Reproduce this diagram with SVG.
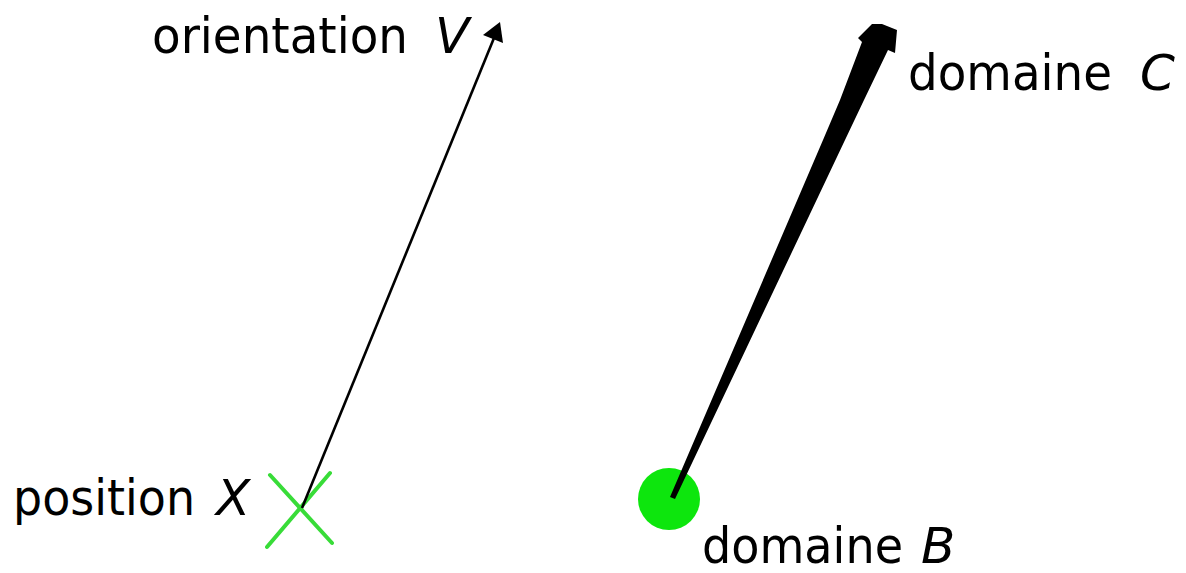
<svg xmlns="http://www.w3.org/2000/svg" width="1186" height="573" viewBox="0 0 1186 573">
<style>
  .lbl { font-family: "DejaVu Sans", "Noto Sans", sans-serif; font-size: 50px; fill: #000; }
  .it { font-style: italic; }
  .cross { stroke: #38dc38; stroke-width: 4; stroke-linecap: round; }
</style>
<rect width="1186" height="573" fill="#fff"/>
<g id="position-X">
  <line class="cross" x1="270" y1="475" x2="332" y2="543"/>
  <line class="cross" x1="330" y1="473" x2="267" y2="547"/>
  <text class="lbl" x="13" y="515" textLength="182" lengthAdjust="spacingAndGlyphs">position</text>
  <text class="lbl it" x="216" y="515">X</text>
</g>
<g id="orientation-V">
  <text class="lbl" x="152" y="53" textLength="256" lengthAdjust="spacingAndGlyphs">orientation</text>
  <text class="lbl it" x="435" y="53">V</text>
</g>
<g id="domaine-B">
  <circle cx="669" cy="499" r="31" fill="#0de60d"/>
  <text class="lbl" x="702" y="563" textLength="201" lengthAdjust="spacingAndGlyphs">domaine</text>
  <text class="lbl it" x="921" y="563">B</text>
</g>
<g id="domaine-C">
  <text class="lbl" x="908" y="90" textLength="204" lengthAdjust="spacingAndGlyphs">domaine</text>
  <text class="lbl it" x="1140" y="90">C</text>
</g>
<g id="connectors">
  <line x1="302" y1="508" x2="494" y2="38" stroke="#000" stroke-width="2.6"/>
  <polygon points="500,22 483,35 503,43" fill="#000"/>
  <polygon points="670,497 823,140 840,100 862,42 858,38 872,24 882,24 897,30 895,53 888,50 864,100 845,140 675,499" fill="#000"/>
</g>
</svg>
